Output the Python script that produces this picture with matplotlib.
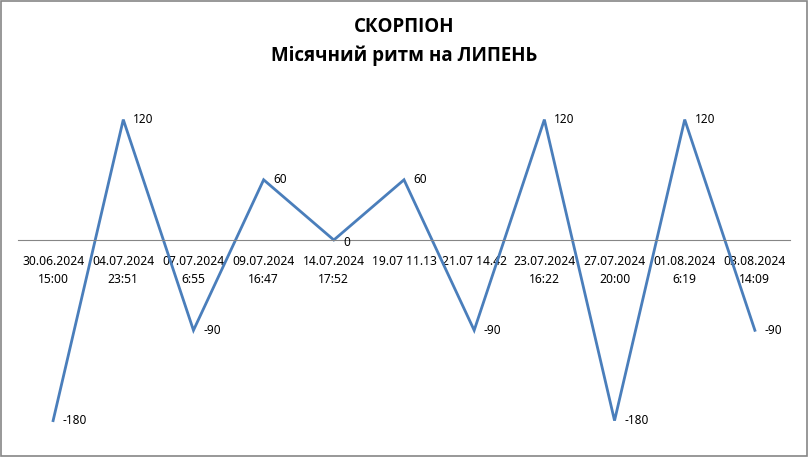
import numpy as np
import matplotlib
matplotlib.use('Agg')
import matplotlib.pyplot as plt
from matplotlib.patches import Rectangle

plt.rcParams['font.family'] = ['Noto Sans', 'DejaVu Sans']

labels = ["30.06.2024\n15:00", "04.07.2024\n23:51", "07.07.2024\n6:55",
          "09.07.2024\n16:47", "14.07.2024\n17:52", "19.07 11.13",
          "21.07 14.42", "23.07.2024\n16:22", "27.07.2024\n20:00",
          "01.08.2024\n6:19", "03.08.2024\n14:09"]
values = [-180, 120, -90, 60, 0, 60, -90, 120, -180, 120, -90]

fig = plt.figure(figsize=(8.08, 4.57), dpi=100)
ax = fig.add_axes([0.0223, 0.0357, 0.9554, 0.7685])

x = np.arange(len(values))
ax.plot(x, values, '-', color='#4A7EBB', linewidth=2.0, solid_joinstyle='miter')

for xi, v in zip(x, values):
    dy = -2 if v == 0 else 0
    ax.annotate(str(v), (xi, v), xytext=(7, dy), textcoords='offset points',
                ha='left', va='center', fontsize=8.5)

ax.set_xlim(-0.5, len(values) - 0.5)
ax.set_ylim(-200, 150)
ax.set_yticks([])
for s in ['top', 'right', 'left']:
    ax.spines[s].set_visible(False)
ax.spines['bottom'].set_position(('data', 0))
ax.spines['bottom'].set_color('#868686')
ax.spines['bottom'].set_linewidth(0.8)
ax.set_xticks(x)
ax.set_xticklabels(labels, fontsize=8.7, linespacing=1.45)
ax.tick_params(axis='x', length=0, pad=11)
ax.patch.set_alpha(0)

title_font = ['Open Sans', 'DejaVu Sans']
fig.text(0.5, 1 - 27 / 457, "СКОРПІОН", ha='center', va='center',
         fontsize=13.5, fontweight='bold', family=title_font)
fig.text(0.5, 1 - 56 / 457, "Місячний ритм на ЛИПЕНЬ", ha='center', va='center',
         fontsize=13.5, fontweight='bold', family=title_font)

fig.patches.append(Rectangle((0.0015, 0.003), 0.997, 0.994, transform=fig.transFigure,
                             fill=False, edgecolor='#868686', linewidth=1.2))

fig.savefig('out.png', dpi=100)
plt.close(fig)
